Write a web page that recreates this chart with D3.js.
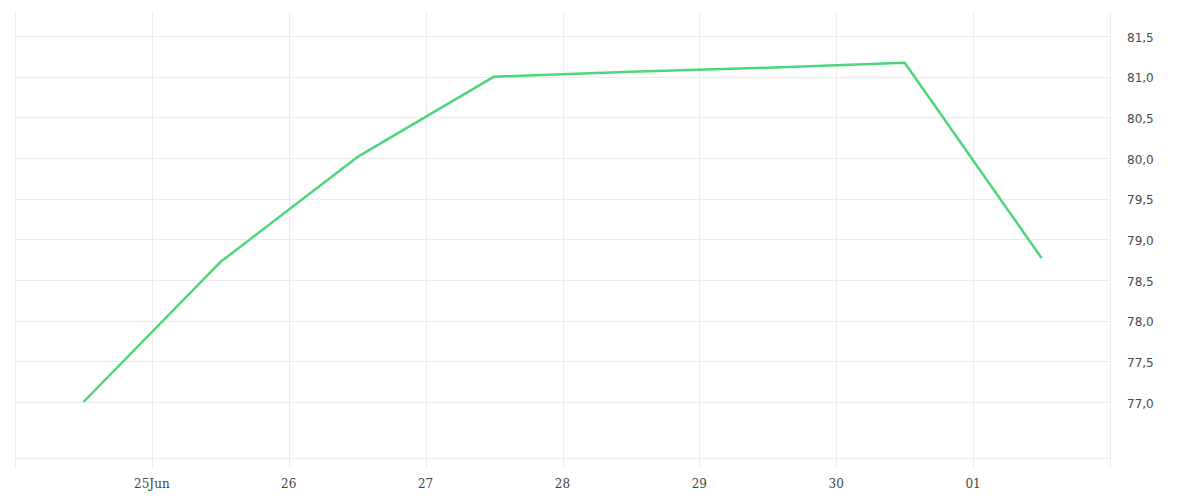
<!DOCTYPE html>
<html><head><meta charset="utf-8">
<script src="https://cdn.jsdelivr.net/npm/d3@7"></script>
<style>body{margin:0;background:#fff}svg{display:block}</style>
</head><body>
<svg id="c" width="1200" height="500"></svg>
<script>
const dates = ["2024-06-24T12:00","2024-06-25T12:00","2024-06-26T12:00","2024-06-27T12:00","2024-06-28T12:00","2024-06-29T12:00","2024-06-30T12:00","2024-07-01T12:00"];
const values = [77.0, 78.72, 80.01, 81.0, 81.06, 81.11, 81.17, 78.77];
const xTickDates = ["2024-06-24","2024-06-25","2024-06-26","2024-06-27","2024-06-28","2024-06-29","2024-06-30","2024-07-01","2024-07-02"];
const xTickLabels = ["","25Jun","26","27","28","29","30","01",""];
const yTicks = [77.0, 77.5, 78.0, 78.5, 79.0, 79.5, 80.0, 80.5, 81.0, 81.5];

const parse = d3.isoParse;
const svg = d3.select("#c");
const L = 15, R = 1110, T = 12, B = 458;
const x = d3.scaleTime().domain([parse("2024-06-24T00:00"), parse("2024-07-02T00:00")]).range([L, R]);
const y = d3.scaleLinear().domain([77.0, 81.5]).range([402, 36]);
const grid = "#ececec";

svg.append("g").selectAll("line").data(yTicks).join("line")
  .attr("x1", L).attr("x2", R).attr("y1", d => Math.round(y(d)) + 0.5).attr("y2", d => Math.round(y(d)) + 0.5)
  .attr("stroke", grid).attr("stroke-width", 1);
svg.append("line").attr("x1", L).attr("x2", R).attr("y1", B + 0.5).attr("y2", B + 0.5)
  .attr("stroke", grid).attr("stroke-width", 1);
svg.append("g").selectAll("line").data(xTickDates).join("line")
  .attr("x1", d => Math.round(x(parse(d))) + 0.5).attr("x2", d => Math.round(x(parse(d))) + 0.5)
  .attr("y1", T).attr("y2", 468)
  .attr("stroke", grid).attr("stroke-width", 1);

svg.append("g").selectAll("text").data(xTickDates).join("text")
  .attr("x", d => x(parse(d))).attr("y", 488)
  .attr("text-anchor", "middle")
  .attr("font-family", "DejaVu Serif, serif").attr("font-size", 12).attr("fill", "#444")
  .text((d, i) => xTickLabels[i]);

const fmt = d => d3.format(".1f")(d).replace(".", ",");
svg.append("g").selectAll("text").data(yTicks).join("text")
  .attr("x", 1127).attr("y", d => y(d) + 5.5)
  .attr("font-family", "DejaVu Sans, sans-serif").attr("font-size", 12).attr("fill", "#4a4a4a")
  .text(fmt);

const line = d3.line().x((d, i) => x(parse(dates[i]))).y(d => y(d));
svg.append("path").datum(values).attr("d", line)
  .attr("fill", "none").attr("stroke", "#4cd67a").attr("stroke-width", 2.5)
  .attr("stroke-linejoin", "round");
</script>
</body></html>
